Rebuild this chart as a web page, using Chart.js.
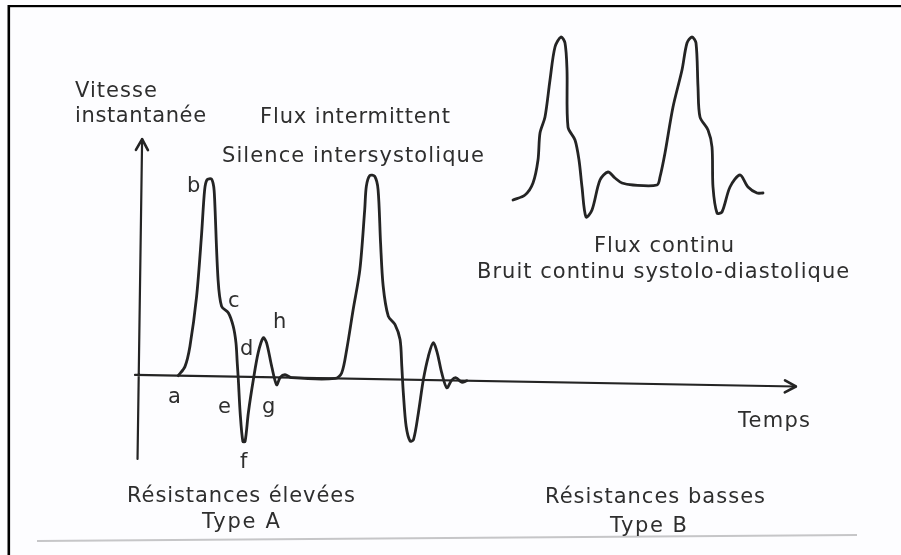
<!DOCTYPE html>
<html lang="fr">
<head>
<meta charset="UTF-8">
<title>Vitesse instantanée - résistances élevées / basses</title>
<script src="https://cdn.jsdelivr.net/npm/chart.js"></script>
<style>
  html, body { margin: 0; padding: 0; background: #fdfdff; }
  #wrap { width: 901px; height: 555px; }
  canvas { display: block; }
</style>
</head>
<body>
<div id="wrap"><canvas id="flowChart" width="901" height="555"></canvas></div>

<script>
  // Type A : high resistance, intermittent flow (time in ms, velocity in cm/s)
  const timeA = [201, 234, 257, 286, 305, 317, 328, 350, 362, 368, 392, 412, 446, 472, 487, 495, 502, 514, 530, 541,
                 555, 577, 599, 623, 640, 668, 694, 711, 735, 769,
                 986, 1018, 1041, 1070, 1100, 1119, 1125, 1141, 1166, 1184, 1201, 1218, 1246, 1280, 1307, 1318, 1328,
                 1345, 1366, 1383, 1405, 1427, 1450, 1473, 1494, 1518, 1545, 1569, 1590, 1619, 1644];
  const velA  = [0, 4.6, 14.7, 39.7, 69.8, 93.1, 98.2, 98.6, 94.9, 88.2, 48.3, 35, 31.9, 25.1, 16.9, 7, -1.5, -18, -32.3, -32.3,
                 -17.9, -1.4, 12.2, 19.7, 17.2, 5.3, -3.7, 0, 1.4, 0,
                 0, 2.8, 14.5, 34.6, 54.6, 84.7, 96.3, 101.7, 101.4, 94.8, 68.3, 46.5, 31.6, 27.5, 20, 6.7, -6.6,
                 -23.3, -30.7, -29.9, -16.5, 0.2, 11.9, 18.7, 13.7, 3.8, -3.7, 0.2, 1.4, -0.8, 0];

  // Type B : low resistance, continuous flow
  const timeB = [0, 60, 100, 125, 135, 160, 185, 210, 240, 260, 270, 275, 310, 330, 345, 365, 395, 435, 475, 510,
                 545, 600, 720, 735, 760, 800, 845, 870, 895, 915, 925, 935, 975, 995, 1000, 1020, 1045, 1085,
                 1135, 1175, 1220, 1250];
  const velB  = [12.5, 15, 21, 32.5, 46, 54, 72.5, 89, 94, 91, 77.5, 49, 42.5, 32.5, 19, 4, 7.5, 22.5, 26.5, 23.5,
                 21, 20, 20, 24, 36, 59, 77.5, 91, 94, 91, 69, 54, 47.5, 39, 19, 6, 6.5, 19,
                 25, 19, 16, 16];

  // axis extent for type A (ms / cm/s)
  const axisTimeA = [-15, 3290];
  const axisVelA = [-42, 118];

  const W = 901, H = 555;
  // pixel origin and units per pixel of each trace
  const panelA = { x0: 138, y0: 375, msPerPx: 5, cmsPerPx: 0.5, tilt: 1.0 };
  const panelB = { x0: 513, y0: 225, msPerPx: 5, cmsPerPx: 0.5 };

  const captions = [
    { text: 'Vitesse', x: 75, y: 97, w: 82 },
    { text: 'instantanée', x: 75, y: 122, w: 131 },
    { text: 'Flux intermittent', x: 260, y: 123, w: 190 },
    { text: 'Silence intersystolique', x: 222, y: 162, w: 262 },
    { text: 'Flux continu', x: 594, y: 252, w: 140 },
    { text: 'Bruit continu systolo-diastolique', x: 477, y: 278, w: 372 },
    { text: 'Temps', x: 738, y: 427, w: 72 },
    { text: 'Résistances élevées', x: 127, y: 502, w: 228 },
    { text: 'Type A', x: 202, y: 528, w: 78 },
    { text: 'Résistances basses', x: 545, y: 503, w: 220 },
    { text: 'Type B', x: 610, y: 532, w: 77 }
  ];
  const phaseLetters = [
    { text: 'a', x: 168, y: 403 }, { text: 'b', x: 187, y: 192 }, { text: 'c', x: 228, y: 307 },
    { text: 'd', x: 240, y: 355 }, { text: 'e', x: 218, y: 413 }, { text: 'f', x: 240, y: 468 },
    { text: 'g', x: 262, y: 413 }, { text: 'h', x: 273, y: 328 }
  ];

  function xRange(p) { return { min: -p.x0 * p.msPerPx, max: (W - p.x0) * p.msPerPx }; }
  function yRange(p) { return { min: -(H - p.y0) * p.cmsPerPx, max: p.y0 * p.cmsPerPx }; }

  const ink = '#242424';
  const textInk = '#2e2e2e';

  // the type A trace and its axes sit slightly skewed on the page
  function tiltA(chart) {
    const ctx = chart.ctx;
    const px = chart.scales.xA.getPixelForValue(0);
    const py = chart.scales.yA.getPixelForValue(0);
    ctx.translate(px, py);
    ctx.rotate(panelA.tilt * Math.PI / 180);
    ctx.translate(-px, -py);
  }

  const sketch = {
    id: 'sketch',
    beforeDraw(chart) {
      const ctx = chart.ctx;
      ctx.save();
      ctx.fillStyle = '#fdfdff';
      ctx.fillRect(0, 0, W, H);
      // frame
      ctx.fillStyle = '#000';
      ctx.fillRect(8, 5, W - 8, 2.2);
      ctx.fillRect(7.5, 5, 2.6, H - 5);
      ctx.strokeStyle = '#c6c6c8';
      ctx.lineWidth = 2;
      ctx.beginPath();
      ctx.moveTo(37, 541);
      ctx.lineTo(857, 535);
      ctx.stroke();
      ctx.restore();
    },
    beforeDatasetsDraw(chart) {
      const ctx = chart.ctx;
      const xA = chart.scales.xA, yA = chart.scales.yA;
      const ox = xA.getPixelForValue(0), oy = yA.getPixelForValue(0);
      const top = yA.getPixelForValue(axisVelA[1]), bottom = yA.getPixelForValue(axisVelA[0]);
      const left = xA.getPixelForValue(axisTimeA[0]), right = xA.getPixelForValue(axisTimeA[1]);
      ctx.save();
      tiltA(chart);
      ctx.strokeStyle = ink;
      ctx.lineWidth = 2.2;
      ctx.lineCap = 'round';
      ctx.lineJoin = 'round';
      ctx.beginPath();
      ctx.moveTo(ox + 1, bottom); ctx.lineTo(ox, top);
      ctx.moveTo(left, oy); ctx.lineTo(right, oy);
      ctx.stroke();
      ctx.lineWidth = 2.6;
      ctx.beginPath();
      ctx.moveTo(ox - 6, top + 11); ctx.lineTo(ox, top); ctx.lineTo(ox + 6, top + 11);
      ctx.moveTo(right - 11, oy - 6); ctx.lineTo(right, oy); ctx.lineTo(right - 11, oy + 6);
      ctx.stroke();
      ctx.restore();
    },
    beforeDatasetDraw(chart, args) {
      if (args.index === 0) { chart.ctx.save(); tiltA(chart); }
    },
    afterDatasetDraw(chart, args) {
      if (args.index === 0) chart.ctx.restore();
    },
    afterDraw(chart) {
      const ctx = chart.ctx;
      ctx.save();
      ctx.fillStyle = textInk;
      ctx.textBaseline = 'alphabetic';
      ctx.textAlign = 'left';
      ctx.font = '21px "DejaVu Sans"';
      captions.forEach(c => {
        ctx.letterSpacing = '0px';
        const m = ctx.measureText(c.text).width;
        const sp = (c.w - m) / Math.max(1, c.text.length - 1);
        ctx.letterSpacing = sp.toFixed(2) + 'px';
        ctx.fillText(c.text, c.x, c.y);
      });
      ctx.letterSpacing = '0px';
      phaseLetters.forEach(l => ctx.fillText(l.text, l.x, l.y));
      ctx.restore();
    }
  };

  const traceStyle = {
    borderColor: ink,
    borderWidth: 2.8,
    pointRadius: 0,
    fill: false,
    clip: false,
    tension: 0.3,
    borderJoinStyle: 'round',
    borderCapStyle: 'round'
  };

  new Chart(document.getElementById('flowChart'), {
    type: 'line',
    data: {
      datasets: [
        Object.assign({ label: 'Type A', xAxisID: 'xA', yAxisID: 'yA',
          data: timeA.map((t, i) => ({ x: t, y: velA[i] })) }, traceStyle),
        Object.assign({ label: 'Type B', xAxisID: 'xB', yAxisID: 'yB',
          data: timeB.map((t, i) => ({ x: t, y: velB[i] })) }, traceStyle)
      ]
    },
    options: {
      responsive: false,
      animation: false,
      devicePixelRatio: 1,
      layout: { padding: 0 },
      plugins: { legend: { display: false }, tooltip: { enabled: false } },
      scales: {
        xA: Object.assign({ type: 'linear', display: false }, xRange(panelA)),
        yA: Object.assign({ type: 'linear', display: false }, yRange(panelA)),
        xB: Object.assign({ type: 'linear', display: false }, xRange(panelB)),
        yB: Object.assign({ type: 'linear', display: false }, yRange(panelB))
      }
    },
    plugins: [sketch]
  });
</script>
</body>
</html>
